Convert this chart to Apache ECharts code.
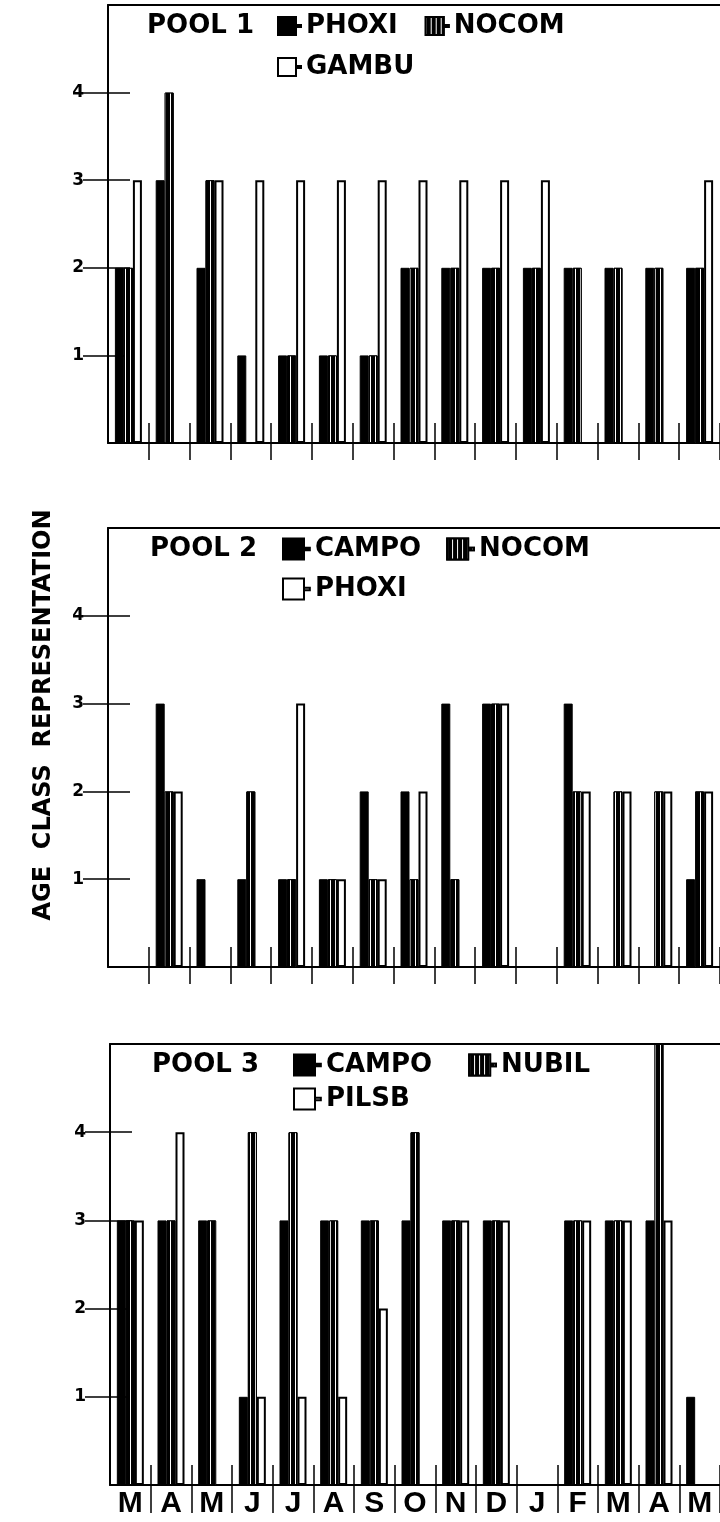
<!DOCTYPE html>
<html>
<head>
<meta charset="utf-8">
<title>Age class representation</title>
<script src="https://cdn.jsdelivr.net/npm/echarts@6.0.0/dist/echarts.min.js"></script>
<style>
  html, body { margin: 0; padding: 0; background: #fff; }
  #main { width: 720px; height: 1522px; }
</style>
</head>
<body>
<div id="main"></div>
<script>
// 月份 (May .. May)
var months = ['M', 'A', 'M', 'J', 'J', 'A', 'S', 'O', 'N', 'D', 'J', 'F', 'M', 'A', 'M'];
var yTicks = [1, 2, 3, 4];

// POOL 1
var pool1Names = ['PHOXI', 'NOCOM', 'GAMBU'];
var pool1Phoxi = [2, 3, 2, 1, 1, 1, 1, 2, 2, 2, 2, 2, 2, 2, 2];
var pool1Nocom = [2, 4, 3, 0, 1, 1, 1, 2, 2, 2, 2, 2, 2, 2, 2];
var pool1Gambu = [3, 0, 3, 3, 3, 3, 3, 3, 3, 3, 3, 0, 0, 0, 3];

// POOL 2
var pool2Names = ['CAMPO', 'NOCOM', 'PHOXI'];
var pool2Campo = [0, 3, 1, 1, 1, 1, 2, 2, 3, 3, 0, 3, 0, 0, 1];
var pool2Nocom = [0, 2, 0, 2, 1, 1, 1, 1, 1, 3, 0, 2, 2, 2, 2];
var pool2Phoxi = [0, 2, 0, 0, 3, 1, 1, 2, 0, 3, 0, 2, 2, 2, 2];

// POOL 3
var pool3Names = ['CAMPO', 'NUBIL', 'PILSB'];
var pool3Campo = [3, 3, 3, 1, 3, 3, 3, 3, 3, 3, 0, 3, 3, 3, 1];
var pool3Nubil = [3, 3, 3, 4, 4, 3, 3, 4, 3, 3, 0, 3, 3, 5, 0];
var pool3Pilsb = [3, 4, 0, 1, 1, 1, 2, 0, 3, 3, 0, 3, 3, 3, 0];

var pools = [
  { title: 'POOL 1', names: pool1Names, values: [pool1Phoxi, pool1Nocom, pool1Gambu] },
  { title: 'POOL 2', names: pool2Names, values: [pool2Campo, pool2Nocom, pool2Phoxi] },
  { title: 'POOL 3', names: pool3Names, values: [pool3Campo, pool3Nubil, pool3Pilsb] }
];

// 每个面板的位置
var layouts = [
  { left: 108, top: 5,    height: 438, titleX: 147, legendX: 277, row1: 26,   row2: 67,   iconW: 23, iconH: 18, gap: 27, tickOut: 17, months: false },
  { left: 108, top: 528,  height: 439, titleX: 150, legendX: 282, row1: 549,  row2: 589,  iconW: 27, iconH: 21, gap: 25, tickOut: 17, months: false },
  { left: 110, top: 1044, height: 441, titleX: 152, legendX: 293, row1: 1065, row2: 1099, iconW: 27, iconH: 21, gap: 36, tickOut: 28, months: true }
];

var barStyles = [
  { color: '#000', borderColor: '#000', borderWidth: 1 },
  { color: '#000', borderColor: '#000', borderWidth: 1,
    decal: { symbol: 'rect', symbolSize: 1, color: '#fff', dashArrayX: [1, 4], dashArrayY: [1, 0], rotation: 0 } },
  { color: '#fff', borderColor: '#000', borderWidth: 2 }
];

var black = '#000';
var legendFont = { fontSize: 26, fontWeight: 'bold', fontFamily: 'DejaVu Sans', color: black };
var legendIcon = 'path://M0,0H18V18H0ZM18,8H23V10H18Z';

// 左边界 (index 0) 不画刻度
function skipFirst(index) {
  return index > 0;
}

var option = {
  animation: false,
  backgroundColor: '#fff',
  title: [],
  legend: [],
  grid: [],
  xAxis: [],
  yAxis: [],
  series: [],
  graphic: [{
    type: 'text',
    x: 44,
    y: 715,
    rotation: Math.PI / 2,
    style: {
      text: 'AGE  CLASS  REPRESENTATION',
      font: 'bold 24px "DejaVu Sans"',
      fill: black,
      align: 'center',
      verticalAlign: 'middle'
    }
  }]
};

pools.forEach(function (pool, i) {
  var L = layouts[i];
  var key = function (n) { return 'P' + (i + 1) + '|' + n; };

  option.grid.push({ left: L.left, top: L.top, width: 612, height: L.height });

  option.title.push({
    text: pool.title, left: L.titleX, top: L.row1 - 13, padding: 0,
    textStyle: legendFont
  });

  var legendBase = {
    left: L.legendX, padding: 0, itemWidth: L.iconW, itemHeight: L.iconH,
    icon: legendIcon, selectedMode: false, itemGap: L.gap,
    textStyle: legendFont,
    formatter: function (name) { return name.split('|')[1]; }
  };
  option.legend.push(Object.assign({}, legendBase, { top: L.row1 - 13, data: [key(pool.names[0]), key(pool.names[1])] }));
  option.legend.push(Object.assign({}, legendBase, { top: L.row2 - 13, data: [key(pool.names[2])] }));

  // 主 x 轴: 底线 + 向外的刻度 (+ 月份)
  option.xAxis.push({
    gridIndex: i, type: 'category', data: months, position: 'bottom',
    axisLine: { show: true, onZero: false, lineStyle: { color: black, width: 2 } },
    axisTick: { show: true, interval: skipFirst, length: L.tickOut, lineStyle: { color: black, width: 1.5 } },
    axisLabel: {
      show: L.months, interval: 0, margin: 4, color: black,
      fontSize: 30, fontWeight: 'bold', fontFamily: 'Liberation Sans'
    },
    splitLine: { show: false }
  });
  // 向内的刻度
  option.xAxis.push({
    gridIndex: i, type: 'category', data: months, position: 'bottom',
    axisLine: { show: false, onZero: false },
    axisTick: { show: true, interval: skipFirst, inside: true, length: 20, lineStyle: { color: black, width: 1.5 } },
    axisLabel: { show: false },
    splitLine: { show: false }
  });
  // 顶部边框
  option.xAxis.push({
    gridIndex: i, type: 'category', data: months, position: 'top',
    axisLine: { show: true, onZero: false, lineStyle: { color: black, width: 2 } },
    axisTick: { show: false },
    axisLabel: { show: false },
    splitLine: { show: false }
  });

  option.yAxis.push({
    gridIndex: i, type: 'value', position: 'left', min: 0, max: 5, interval: 1,
    axisLine: { show: true, lineStyle: { color: black, width: 2 } },
    axisTick: { show: true, length: 25, customValues: yTicks, lineStyle: { color: black, width: 1.5 } },
    axisLabel: {
      customValues: yTicks, margin: 24, color: black,
      fontSize: 17, fontWeight: 'bold', fontFamily: 'DejaVu Sans'
    },
    splitLine: { show: false }
  });
  option.yAxis.push({
    gridIndex: i, type: 'value', position: 'left', min: 0, max: 5, interval: 1,
    axisLine: { show: false },
    axisTick: { show: true, inside: true, length: 22, customValues: yTicks, lineStyle: { color: black, width: 1.5 } },
    axisLabel: { show: false },
    splitLine: { show: false }
  });

  pool.names.forEach(function (n, s) {
    option.series.push({
      name: key(n),
      type: 'bar',
      xAxisIndex: i * 3,
      yAxisIndex: i * 2,
      barWidth: 9,
      barGap: '0%',
      itemStyle: barStyles[s],
      data: pool.values[s]
    });
  });
});

var myChart = echarts.init(document.getElementById('main'));
myChart.setOption(option);
window.addEventListener('resize', function () {
  myChart.resize();
});
</script>
</body>
</html>
